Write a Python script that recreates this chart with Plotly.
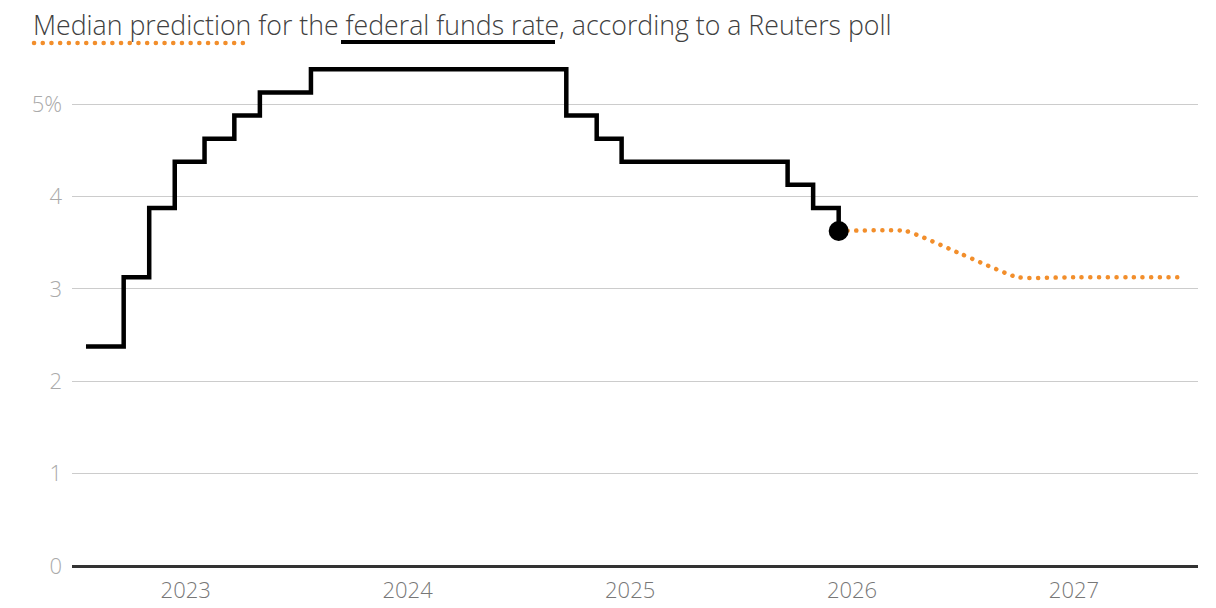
import plotly.graph_objects as go

# Actual fed funds rate (midpoint of target range), change dates
actual_dates = ["2022-07-21", "2022-09-21", "2022-11-02", "2022-12-14", "2023-02-01",
                "2023-03-22", "2023-05-03", "2023-07-26", "2024-09-18", "2024-11-07",
                "2024-12-18", "2025-09-17", "2025-10-29", "2025-12-10"]
actual_rates = [2.375, 3.125, 3.875, 4.375, 4.625, 4.875, 5.125, 5.375, 4.875, 4.625,
                4.375, 4.125, 3.875, 3.625]

# Reuters poll median forecast
forecast_dates = ["2025-12-10", "2026-03-31", "2026-06-30", "2026-09-30",
                  "2026-12-31", "2027-03-31", "2027-06-30"]
forecast_rates = [3.625, 3.625, 3.375, 3.125, 3.125, 3.125, 3.125]

y_ticks = [0, 1, 2, 3, 4, 5]
y_ticktext = ["0", "1", "2", "3", "4", "5%"]
x_ticks = ["2023-01-01", "2024-01-01", "2025-01-01", "2026-01-01", "2027-01-01"]
x_ticktext = ["2023", "2024", "2025", "2026", "2027"]

ORANGE = "#f28e2b"
FONT = "Open Sans"

fig = go.Figure()
fig.add_trace(go.Scatter(
    x=forecast_dates, y=forecast_rates, mode="lines",
    line=dict(color=ORANGE, width=4.5, dash="dot", shape="spline", smoothing=0.4),
    hoverinfo="skip", showlegend=False))
fig.add_trace(go.Scatter(
    x=actual_dates, y=actual_rates, mode="lines",
    line=dict(color="black", width=4.5, shape="hv"),
    showlegend=False))
fig.add_trace(go.Scatter(
    x=actual_dates[-1:], y=actual_rates[-1:], mode="markers",
    marker=dict(color="black", size=20),
    showlegend=False))

W, H = 1216, 608
ml, mr, mt, mb = 72, 18, 48, 42

fig.update_layout(
    width=W, height=H,
    margin=dict(l=ml, r=mr, t=mt, b=mb, autoexpand=False),
    plot_bgcolor="white", paper_bgcolor="white",
    font=dict(family=FONT),
    xaxis=dict(
        type="date", range=["2022-06-28", "2027-07-24"],
        tickvals=x_ticks, ticktext=x_ticktext,
        showgrid=False, zeroline=False, showline=False, ticks="",
        ticklabelstandoff=9,
        tickfont=dict(size=22, color="#777777", weight=300),
    ),
    yaxis=dict(
        range=[0, (H - mt - mb) / 92.4],
        tickvals=y_ticks, ticktext=y_ticktext,
        showgrid=True, gridcolor="#cccccc", gridwidth=1,
        zeroline=True, zerolinecolor="#333333", zerolinewidth=2.5,
        showline=False, ticks="", ticklabelstandoff=9,
        tickfont=dict(size=22, color="#aaaaaa", weight=300),
    ),
)

fig.add_annotation(
    xref="paper", yref="paper", x=-(ml - 31) / (W - ml - mr), y=1 + (mt - 4) / (H - mt - mb),
    xanchor="left", yanchor="top", showarrow=False,
    text="Median prediction for the federal funds rate, according to a Reuters poll",
    font=dict(family=FONT, size=26.7, color="#404040", weight=300))

def px_x(p):
    return (p - ml) / (W - ml - mr)

def px_y(p):
    return (H - mb - p) / (H - mt - mb)

fig.add_shape(type="line", xref="paper", yref="paper",
              x0=px_x(34), x1=px_x(248), y0=px_y(43), y1=px_y(43),
              line=dict(color=ORANGE, width=4.5, dash="dot"))
fig.add_shape(type="line", xref="paper", yref="paper",
              x0=px_x(341), x1=px_x(555), y0=px_y(42), y1=px_y(42),
              line=dict(color="black", width=4))

post = """
document.body.style.margin = '0';
document.querySelectorAll('path').forEach(function (p) {
  var s = p.style.stroke || '';
  if (s.replace(/\\s/g, '') === 'rgb(242,142,43)') {
    p.style.strokeLinecap = 'round';
    p.style.strokeDasharray = '0.1px,8.6px';
  }
});
"""

fig.write_html("out.html", post_script=post, config={"displayModeBar": False})
